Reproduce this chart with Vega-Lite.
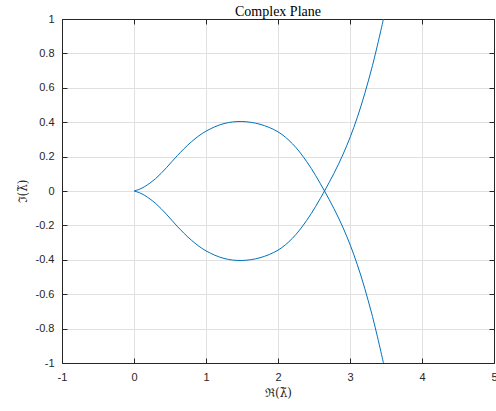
{
  "$schema": "https://vega.github.io/schema/vega-lite/v6.json",
  "autosize": {"type": "none"},
  "padding": {"left": 62, "top": 19, "right": 2, "bottom": 48},
  "width": 432,
  "height": 344,
  "background": "white",
  "title": {"text": "Complex Plane", "font": "Liberation Serif", "fontSize": 14, "fontWeight": "normal", "color": "#000000", "offset": -6, "anchor": "middle"},
  "config": {
    "view": {"stroke": null},
    "axis": {"labelFont": "Liberation Sans", "labelFontSize": 11, "labelColor": "#262626", "domainColor": "#262626", "tickColor": "#262626", "gridColor": "#e0e0e0", "gridWidth": 1, "domainWidth": 1, "tickWidth": 1, "titleFont": "DejaVu Serif", "titleFontSize": 12, "titleFontWeight": "normal", "titleColor": "#262626"}
  },
  "data": {"values": [
    {"b": "upper", "i": 0, "x": 0, "y": 0},
    {"b": "upper", "i": 1, "x": 0.075, "y": 0.01},
    {"b": "upper", "i": 2, "x": 0.15, "y": 0.026},
    {"b": "upper", "i": 3, "x": 0.3, "y": 0.072},
    {"b": "upper", "i": 4, "x": 0.45, "y": 0.135},
    {"b": "upper", "i": 5, "x": 0.6, "y": 0.205},
    {"b": "upper", "i": 6, "x": 0.8, "y": 0.287},
    {"b": "upper", "i": 7, "x": 1.0, "y": 0.348},
    {"b": "upper", "i": 8, "x": 1.25, "y": 0.392},
    {"b": "upper", "i": 9, "x": 1.49, "y": 0.404},
    {"b": "upper", "i": 10, "x": 1.75, "y": 0.388},
    {"b": "upper", "i": 11, "x": 2.0, "y": 0.344},
    {"b": "upper", "i": 12, "x": 2.2, "y": 0.275},
    {"b": "upper", "i": 13, "x": 2.4, "y": 0.17},
    {"b": "upper", "i": 14, "x": 2.646, "y": 0},
    {"b": "upper", "i": 15, "x": 2.9, "y": -0.21},
    {"b": "upper", "i": 16, "x": 3.1, "y": -0.426},
    {"b": "upper", "i": 17, "x": 3.3, "y": -0.71},
    {"b": "upper", "i": 18, "x": 3.465, "y": -1.0},
    {"b": "lower", "i": 0, "x": 0, "y": 0},
    {"b": "lower", "i": 1, "x": 0.075, "y": -0.01},
    {"b": "lower", "i": 2, "x": 0.15, "y": -0.026},
    {"b": "lower", "i": 3, "x": 0.3, "y": -0.072},
    {"b": "lower", "i": 4, "x": 0.45, "y": -0.135},
    {"b": "lower", "i": 5, "x": 0.6, "y": -0.205},
    {"b": "lower", "i": 6, "x": 0.8, "y": -0.287},
    {"b": "lower", "i": 7, "x": 1.0, "y": -0.348},
    {"b": "lower", "i": 8, "x": 1.25, "y": -0.392},
    {"b": "lower", "i": 9, "x": 1.49, "y": -0.404},
    {"b": "lower", "i": 10, "x": 1.75, "y": -0.388},
    {"b": "lower", "i": 11, "x": 2.0, "y": -0.344},
    {"b": "lower", "i": 12, "x": 2.2, "y": -0.275},
    {"b": "lower", "i": 13, "x": 2.4, "y": -0.17},
    {"b": "lower", "i": 14, "x": 2.646, "y": 0},
    {"b": "lower", "i": 15, "x": 2.9, "y": 0.21},
    {"b": "lower", "i": 16, "x": 3.1, "y": 0.426},
    {"b": "lower", "i": 17, "x": 3.3, "y": 0.71},
    {"b": "lower", "i": 18, "x": 3.465, "y": 1.0}
  ]},
  "resolve": {"axis": {"x": "independent", "y": "independent"}},
  "layer": [
    {
      "mark": {"type": "line", "opacity": 0},
      "encoding": {
        "x": {"field": "x", "type": "quantitative", "scale": {"domain": [-1, 5], "nice": false, "zero": false},
              "axis": {"orient": "top", "labels": false, "title": null, "grid": false, "tickSize": -5, "values": [-1, 0, 1, 2, 3, 4, 5]}},
        "y": {"field": "y", "type": "quantitative", "scale": {"domain": [-1, 1], "nice": false, "zero": false},
              "axis": {"orient": "right", "labels": false, "title": null, "grid": false, "tickSize": -5, "values": [-1, -0.8, -0.6, -0.4, -0.2, 0, 0.2, 0.4, 0.6, 0.8, 1]}},
        "detail": {"field": "b"},
        "order": {"field": "i"}
      }
    },
    {
      "mark": {"type": "line", "color": "#0072BD", "strokeWidth": 1, "clip": true, "interpolate": "catmull-rom"},
      "encoding": {
        "x": {"field": "x", "type": "quantitative", "scale": {"domain": [-1, 5], "nice": false, "zero": false},
              "axis": {"orient": "bottom", "title": "ℜ(λ̃)", "grid": true, "tickSize": -5, "labelPadding": 13, "titlePadding": 5, "values": [-1, 0, 1, 2, 3, 4, 5], "labelExpr": "'' + datum.value", "labelFlush": false, "labelOverlap": false}},
        "y": {"field": "y", "type": "quantitative", "scale": {"domain": [-1, 1], "nice": false, "zero": false},
              "axis": {"orient": "left", "title": "ℑ(λ̃)", "grid": true, "tickSize": -5, "labelPadding": 13, "titlePadding": 6, "values": [-1, -0.8, -0.6, -0.4, -0.2, 0, 0.2, 0.4, 0.6, 0.8, 1], "labelExpr": "'' + datum.value", "labelFlush": false, "labelOverlap": false}},
        "detail": {"field": "b"},
        "order": {"field": "i"}
      }
    }
  ]
}
